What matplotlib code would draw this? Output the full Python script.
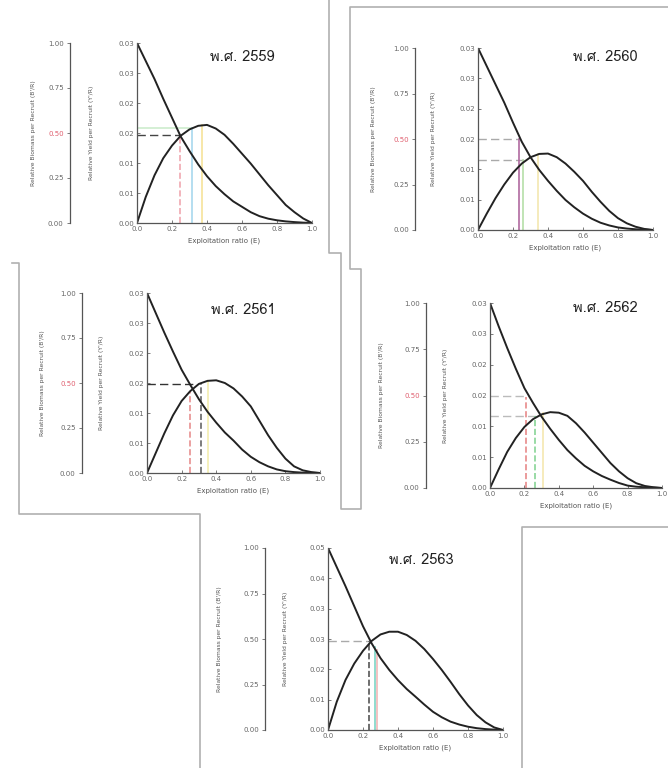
import numpy as np
import matplotlib
matplotlib.use("Agg")
import matplotlib.pyplot as plt
from matplotlib import font_manager, ft2font
from matplotlib.lines import Line2D

W, H = 668, 768

# exploitation ratio grid (read every 0.05)
E = [0.0, 0.05, 0.10, 0.15, 0.20, 0.25, 0.30, 0.35, 0.40, 0.45, 0.50,
     0.55, 0.60, 0.65, 0.70, 0.75, 0.80, 0.85, 0.90, 0.95, 1.0]

years = ["2559", "2560", "2561", "2562", "2563"]

# relative biomass per recruit B'/R
br_2559 = [1.0, 0.90, 0.80, 0.69, 0.585, 0.48, 0.40, 0.325, 0.26, 0.205, 0.16,
           0.12, 0.09, 0.06, 0.038, 0.024, 0.015, 0.009, 0.005, 0.002, 0.0]
br_2560 = [1.0, 0.90, 0.80, 0.70, 0.59, 0.485, 0.40, 0.33, 0.27, 0.215, 0.165,
           0.125, 0.09, 0.062, 0.04, 0.025, 0.014, 0.008, 0.004, 0.002, 0.0]
br_2561 = [1.0, 0.89, 0.78, 0.675, 0.574, 0.49, 0.41, 0.34, 0.28, 0.225, 0.18,
           0.13, 0.09, 0.06, 0.037, 0.02, 0.01, 0.005, 0.002, 0.001, 0.0]
br_2562 = [1.0, 0.875, 0.757, 0.645, 0.54, 0.46, 0.385, 0.32, 0.26, 0.205, 0.16,
           0.12, 0.09, 0.065, 0.045, 0.027, 0.013, 0.007, 0.004, 0.002, 0.0]
br_2563 = [1.0, 0.895, 0.79, 0.68, 0.57, 0.475, 0.395, 0.33, 0.274, 0.225, 0.183,
           0.14, 0.10, 0.07, 0.046, 0.03, 0.018, 0.01, 0.005, 0.002, 0.0]

# relative yield per recruit Y'/R
yr_2559 = [0.0, 0.00435, 0.00795, 0.0108, 0.0129, 0.01455, 0.0156, 0.0162, 0.01635, 0.01575, 0.0147,
           0.0132, 0.01155, 0.0099, 0.0081, 0.0063, 0.00465, 0.0030, 0.0018, 0.00075, 0.0]
yr_2560 = [0.0, 0.0027, 0.00525, 0.0075, 0.00945, 0.01095, 0.0120, 0.01254, 0.0126, 0.0120, 0.01095,
           0.0096, 0.0081, 0.0063, 0.00465, 0.00315, 0.00195, 0.00111, 0.00054, 0.00018, 0.0]
yr_2561 = [0.0, 0.0033, 0.0066, 0.0096, 0.0120, 0.01365, 0.01485, 0.01536, 0.01545, 0.0150, 0.0141,
           0.01275, 0.0111, 0.0087, 0.0063, 0.0042, 0.0024, 0.00111, 0.00045, 0.00015, 0.0]
yr_2562 = [0.0, 0.0030, 0.00585, 0.0081, 0.0099, 0.01116, 0.01194, 0.0123, 0.01221, 0.0117, 0.0105,
           0.0090, 0.00735, 0.0057, 0.00405, 0.0027, 0.00159, 0.00078, 0.00033, 0.00012, 0.0]
yr_2563 = [0.0, 0.00775, 0.01375, 0.01825, 0.02175, 0.0245, 0.02625, 0.0270, 0.0270, 0.0261, 0.0245,
           0.02225, 0.0195, 0.0165, 0.01325, 0.00985, 0.00675, 0.0041, 0.0021, 0.0007, 0.0]

br_all = [br_2559, br_2560, br_2561, br_2562, br_2563]
yr_all = [yr_2559, yr_2560, yr_2561, yr_2562, yr_2563]

yr_max = [0.03, 0.03, 0.03, 0.03, 0.05]
yr_ticklabels = [
    ["0.00", "0.01", "0.01", "0.02", "0.02", "0.03", "0.03"],
    ["0.00", "0.01", "0.01", "0.02", "0.02", "0.03", "0.03"],
    ["0.00", "0.01", "0.01", "0.02", "0.02", "0.03", "0.03"],
    ["0.00", "0.01", "0.01", "0.02", "0.02", "0.03", "0.03"],
    ["0.00", "0.01", "0.02", "0.03", "0.03", "0.04", "0.05"],
]
br_ticks = [0.0, 0.25, 0.5, 0.75, 1.0]
br_ticklabels = ["0.00", "0.25", "0.50", "0.75", "1.00"]
mid_label_red = [True, True, True, True, False]
e_ticks = [0.0, 0.2, 0.4, 0.6, 0.8, 1.0]
e_ticklabels = ["0.0", "0.2", "0.4", "0.6", "0.8", "1.0"]

# reference lines: horizontal (level, E end, colour, style), vertical (E, level, colour, style)
h_refs = [
    [(0.0147, 0.245, "#444444", "--"), (0.0159, 0.316, "#cdeccd", "-")],
    [(0.0150, 0.237, "#aaaaaa", "--"), (0.0116, 0.27, "#aaaaaa", "--")],
    [(0.0149, 0.27, "#333333", "--")],
    [(0.0150, 0.223, "#bbbbbb", "--"), (0.0116, 0.29, "#bbbbbb", "--")],
    [(0.0244, 0.235, "#aaaaaa", "--")],
]
v_refs = [
    [(0.245, 0.0147, "#f0a8b0", "--"), (0.316, 0.0159, "#a8d8ee", "-"), (0.373, 0.0164, "#f6e39a", "-")],
    [(0.237, 0.0150, "#b06aa0", "-"), (0.258, 0.0116, "#b5dfa8", "-"), (0.343, 0.0126, "#f4e8b0", "-")],
    [(0.246, 0.0135, "#e89090", "--"), (0.31, 0.0149, "#666666", "--"), (0.35, 0.0154, "#f3eeb0", "-")],
    [(0.21, 0.0148, "#e88a8a", "--"), (0.26, 0.0116, "#88d496", "--"), (0.31, 0.0121, "#f5e8b0", "-")],
    [(0.235, 0.0244, "#555555", "--"), (0.27, 0.0228, "#7dd6c6", "-"), (0.28, 0.0220, "#f2b8b8", "-")],
]

# layout in pixels: axes (left, top, right, bottom), B/R spine x, label x's, title centre
layout = [
    dict(ax=(137, 43, 312, 223), br_x=70, br_lab=33, yr_lab=92, title=(242, 57)),
    dict(ax=(478, 48, 653, 230), br_x=415, br_lab=373, yr_lab=433, title=(605, 57)),
    dict(ax=(147, 293, 320, 473), br_x=82, br_lab=43, yr_lab=102, title=(243, 310)),
    dict(ax=(490, 303, 662, 488), br_x=426, br_lab=382, yr_lab=445, title=(605, 308)),
    dict(ax=(328, 548, 503, 730), br_x=265, br_lab=220, yr_lab=285, title=(421, 560)),
]

frames = [
    [(329, 0), (329, 253), (341, 253), (341, 509), (361, 509), (361, 269), (350, 269), (350, 7), (668, 7)],
    [(12, 263), (19, 263), (19, 514), (200, 514), (200, 768)],
    [(668, 527), (522, 527), (522, 768)],
]


def thai_font():
    for f in font_manager.fontManager.ttflist:
        if not f.fname.lower().endswith((".ttf", ".otf")):
            continue
        try:
            if 0x0E1E in ft2font.FT2Font(f.fname).get_charmap():
                return f.name
        except Exception:
            pass
    return "DejaVu Sans"


TH = thai_font()
plt.rcParams["font.family"] = ["DejaVu Sans"]

fig = plt.figure(figsize=(W / 100, H / 100), dpi=100)
fig.patch.set_facecolor("white")


def fx(x):
    return x / W


def fy(y):
    return 1 - y / H


for pts in frames:
    xs = [fx(p[0]) for p in pts]
    ys = [fy(p[1]) for p in pts]
    fig.add_artist(Line2D(xs, ys, transform=fig.transFigure, color="#b0b0b0", lw=1.2))

for i in range(5):
    lay = layout[i]
    l, t, r, b = lay["ax"]
    ym = yr_max[i]
    ax = fig.add_axes([fx(l), fy(b), (r - l) / W, (b - t) / H])
    ax.set_xlim(0, 1)
    ax.set_ylim(0, ym)
    for s in ["top", "right"]:
        ax.spines[s].set_visible(False)
    for s in ["left", "bottom"]:
        ax.spines[s].set_color("#555555")
        ax.spines[s].set_linewidth(0.9)

    for (lev, e_end, c, ls) in h_refs[i]:
        if ls == "--":
            ax.plot([0, e_end], [lev, lev], color=c, lw=1.0, ls=ls, dashes=(6, 3))
        else:
            ax.plot([0, e_end], [lev, lev], color=c, lw=1.2)
    for (e, lev, c, ls) in v_refs[i]:
        ax.plot([e, e], [0, lev], color=c, lw=1.2, ls=ls)

    ax.plot(E, yr_all[i], color="#222222", lw=1.4, solid_joinstyle="round")
    ax.plot(E, np.array(br_all[i]) * ym, color="#222222", lw=1.4, solid_joinstyle="round")

    ax.set_yticks(np.linspace(0, ym, 7))
    ax.set_yticklabels(yr_ticklabels[i])
    ax.set_xticks(e_ticks)
    ax.set_xticklabels(e_ticklabels)
    ax.tick_params(direction="in", length=2.5, width=0.6, colors="#666666", labelsize=5, pad=2)
    ax.set_xlabel("Exploitation ratio (E)", fontsize=5, color="#555555", labelpad=4)
    ax.text(fx(lay["title"][0]), fy(lay["title"][1]), "พ.ศ. " + years[i],
            transform=fig.transFigure, ha="center", va="center",
            fontsize=10.5, color="#222222", family=[TH, "DejaVu Sans"])
    fig.text(fx(lay["yr_lab"]), fy((t + b) / 2), "Relative Yield per Recruit (Y'/R)",
             rotation=90, ha="center", va="center", fontsize=4.3, color="#555555")

    # separate B'/R axis on the left
    axb = fig.add_axes([fx(lay["br_x"]), fy(b), 12 / W, (b - t) / H])
    axb.set_ylim(0, 1)
    axb.patch.set_alpha(0)
    for s in ["top", "right", "bottom"]:
        axb.spines[s].set_visible(False)
    axb.spines["left"].set_color("#555555")
    axb.spines["left"].set_linewidth(0.9)
    axb.set_xticks([])
    axb.set_yticks(br_ticks)
    axb.set_yticklabels(br_ticklabels)
    axb.tick_params(axis="y", length=2.5, width=0.6, colors="#666666", labelsize=5, pad=2)
    if mid_label_red[i]:
        axb.get_yticklabels()[2].set_color("#e06070")
    fig.text(fx(lay["br_lab"]), fy((t + b) / 2), "Relative Biomass per Recruit (B'/R)",
             rotation=90, ha="center", va="center", fontsize=4.3, color="#555555")

fig.savefig("out.png", dpi=100, facecolor="white")
